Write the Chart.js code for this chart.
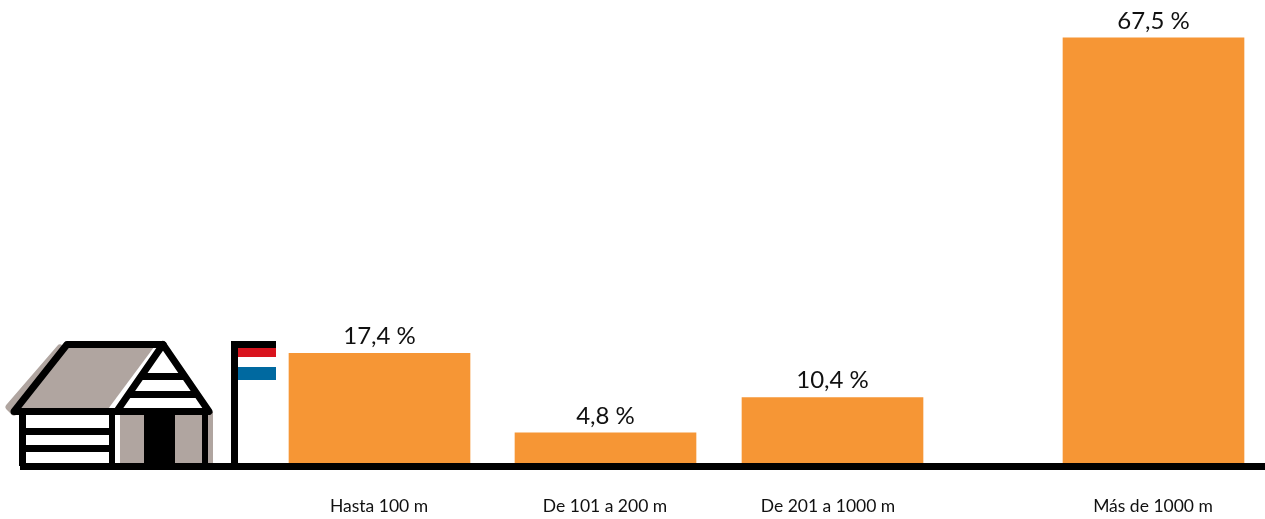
<!DOCTYPE html>
<html><head><meta charset="utf-8">
<style>html,body{margin:0;padding:0;background:#fff}#w{width:1265px;height:519px;position:relative}</style>
<script src="https://cdn.jsdelivr.net/npm/chart.js@4"></script>
</head><body><div id="w"><canvas id="c"></canvas></div>
<script>
const categories = ["Hasta 100 m", "De 101 a 200 m", "De 201 a 1000 m", "Más de 1000 m"];
const values = [17.4, 4.8, 10.4, 67.5];
const valueLabels = ["17,4 %", "4,8 %", "10,4 %", "67,5 %"];
const barCentres = [379.5, 605.5, 832.5, 1153.5];
const labelCentres = [379, 605, 828, 1153];

const ORANGE = "#f69635", GREY = "#b0a5a0", RED = "#d9141e", BLUE = "#0069a0";

function poly(ctx, pts, fill) {
  ctx.beginPath();
  pts.forEach((p, i) => i ? ctx.lineTo(p[0], p[1]) : ctx.moveTo(p[0], p[1]));
  ctx.closePath();
  ctx.fillStyle = fill;
  ctx.fill();
}
function rect(ctx, x0, y0, x1, y1, fill) {
  ctx.fillStyle = fill;
  ctx.fillRect(x0, y0, x1 - x0, y1 - y0);
}

const iconPlugin = {
  id: "icon",
  beforeDatasetsDraw(chart) {
    const ctx = chart.ctx;
    ctx.save();
    // grey offset shadow
    ctx.lineJoin = "round"; ctx.lineCap = "round";
    ctx.strokeStyle = GREY; ctx.lineWidth = 7;
    ctx.beginPath(); ctx.moveTo(60, 348); ctx.lineTo(9, 407); ctx.lineTo(14, 412); ctx.stroke();
    rect(ctx, 207, 412, 213, 464, GREY);
    // roof fill
    poly(ctx, [[68, 347], [156, 347], [110, 409], [16, 409]], GREY);
    // right-hand section
    rect(ctx, 120, 414, 203, 464, GREY);
    rect(ctx, 144, 414, 175, 464, "#000");
    // white strip on roof edge
    ctx.strokeStyle = "#fff"; ctx.lineWidth = 3; ctx.lineCap = "butt";
    ctx.beginPath(); ctx.moveTo(156, 347); ctx.lineTo(110, 409); ctx.stroke();
    // roof outline
    ctx.strokeStyle = "#000"; ctx.lineWidth = 7; ctx.lineCap = "round";
    ctx.beginPath();
    ctx.moveTo(14, 411.5); ctx.lineTo(67, 344.5); ctx.lineTo(163, 344.5); ctx.lineTo(209, 411.5); ctx.closePath();
    ctx.stroke();
    ctx.beginPath(); ctx.moveTo(163, 344.5); ctx.lineTo(117, 411); ctx.stroke();
    // gable planks
    rect(ctx, 142, 373, 186, 380, "#000");
    rect(ctx, 130, 391, 198, 398, "#000");
    // walls
    rect(ctx, 19, 412, 26, 466, "#000");
    rect(ctx, 109, 412, 115, 466, "#000");
    rect(ctx, 202, 412, 208, 466, "#000");
    rect(ctx, 26, 428, 109, 435, "#000");
    rect(ctx, 26, 445, 109, 452, "#000");
    // flag
    rect(ctx, 231, 341, 238, 466, "#000");
    rect(ctx, 238, 341, 276, 348, "#000");
    rect(ctx, 238, 348, 276, 357, RED);
    rect(ctx, 238, 367, 276, 380, BLUE);
    ctx.restore();
  }
};

const valueLabelPlugin = {
  id: "valueLabels",
  afterDatasetsDraw(chart) {
    const ctx = chart.ctx;
    const meta = chart.getDatasetMeta(0);
    ctx.save();
    ctx.font = "24px Lato";
    ctx.fillStyle = "#111";
    ctx.textAlign = "center";
    ctx.textBaseline = "alphabetic";
    meta.data.forEach((bar, i) => ctx.fillText(valueLabels[i], bar.x, bar.y - 9));
    ctx.restore();
  }
};

new Chart(document.getElementById("c"), {
  type: "bar",
  data: {
    datasets: [{
      data: barCentres.map((x, i) => ({ x, y: values[i] })),
      backgroundColor: ORANGE,
      borderWidth: 0,
      barThickness: 181
    }]
  },
  plugins: [iconPlugin, valueLabelPlugin],
  options: {
    responsive: true,
    maintainAspectRatio: false,
    animation: false,
    layout: { padding: { left: 23, right: 0, top: 0, bottom: 0 } },
    plugins: { legend: { display: false }, tooltip: { enabled: false } },
    scales: {
      x: {
        type: "linear",
        offset: false,
        min: 23,
        max: 1265,
        afterBuildTicks(scale) { scale.ticks = labelCentres.map(value => ({ value })); },
        afterFit(scale) { scale.height = 52.5; },
        grid: { display: false, drawTicks: false, offset: false },
        border: { display: true, color: "#000", width: 7, z: 1 },
        ticks: {
          autoSkip: false,
          maxRotation: 0,
          minRotation: 0,
          padding: 29,
          color: "#111",
          font: { family: "Lato", size: 17.5 },
          callback: (v, i) => categories[i]
        }
      },
      y: {
        display: false,
        min: -0.556,
        max: 73.5
      }
    }
  }
});
</script></body></html>
